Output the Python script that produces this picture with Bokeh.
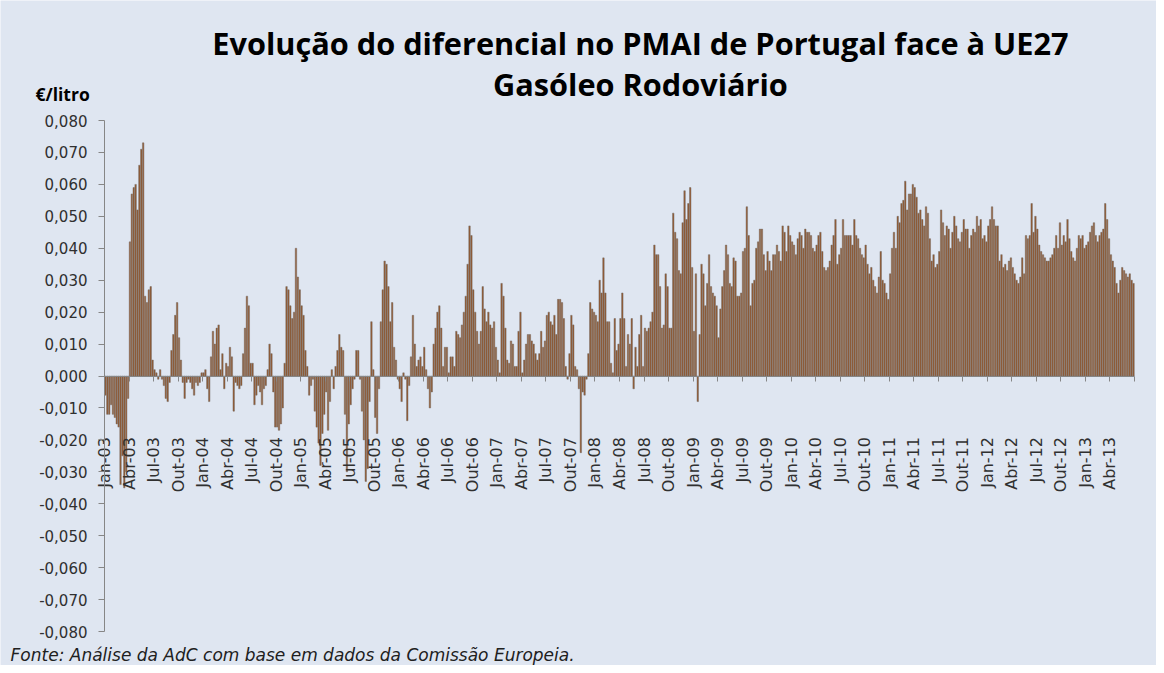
from math import pi
from bokeh.plotting import figure
from bokeh.models import Range1d, FixedTicker, CustomJSTickFormatter, Label
from bokeh.embed import file_html
from bokeh.resources import INLINE

# Weekly differential (EUR/litre), Jan-2003 .. Jun-2013, one list per quarter (13 weeks)
q00 = [-0.006, -0.012, -0.012, -0.009, -0.012, -0.013, -0.015, -0.016, -0.034, -0.025, -0.035, -0.030, -0.007]
q01 = [0.042, 0.057, 0.059, 0.060, 0.052, 0.066, 0.071, 0.073, 0.025, 0.023, 0.027, 0.028, 0.005]
q02 = [0.002, 0.001, -0.001, 0.002, -0.001, -0.003, -0.007, -0.008, -0.002, 0.008, 0.013, 0.019, 0.023]
q03 = [0.012, 0.005, -0.002, -0.007, -0.002, -0.001, -0.002, -0.004, -0.006, -0.002, -0.003, -0.002, 0.001]
q04 = [0.001, 0.002, -0.004, -0.008, 0.006, 0.014, 0.010, 0.015, 0.016, 0.002, 0.007, -0.004, 0.004]
q05 = [0.003, 0.009, 0.006, -0.011, -0.002, -0.003, -0.004, -0.003, 0.007, 0.015, 0.025, 0.022, 0.004]
q06 = [0.004, -0.009, -0.006, -0.003, -0.005, -0.009, -0.004, -0.003, 0.002, 0.010, 0.007, -0.005, -0.016]
q07 = [-0.016, -0.017, -0.015, -0.010, 0.004, 0.028, 0.027, 0.022, 0.018, 0.020, 0.040, 0.031, 0.027]
q08 = [0.022, 0.019, 0.008, 0.003, -0.006, -0.003, -0.001, -0.011, -0.016, -0.021, -0.028, -0.018, -0.012]
q09 = [-0.005, -0.017, -0.008, 0.002, -0.004, 0.003, 0.008, 0.013, 0.009, 0.008, -0.012, -0.030, -0.015]
q10 = [-0.009, -0.004, -0.001, 0.008, 0.008, -0.001, -0.011, -0.020, -0.033, -0.029, -0.008, 0.017, 0.002]
q11 = [-0.013, -0.018, -0.004, 0.017, 0.027, 0.036, 0.035, 0.028, 0.017, 0.023, 0.009, 0.005, -0.001]
q12 = [-0.004, -0.008, 0.001, -0.001, -0.014, -0.003, 0.006, 0.019, 0.010, 0.003, 0.005, 0.006, 0.003]
q13 = [0.009, 0.002, -0.004, -0.010, -0.005, 0.010, 0.015, 0.020, 0.022, 0.015, 0.003, 0.009, 0.009]
q14 = [0.001, 0.006, 0.006, 0.003, 0.014, 0.013, 0.012, 0.016, 0.020, 0.025, 0.035, 0.047, 0.044]
q15 = [0.027, 0.020, 0.014, 0.010, 0.014, 0.028, 0.021, 0.017, 0.020, 0.016, 0.015, 0.017, 0.009]
q16 = [0.005, 0.001, 0.029, 0.025, 0.015, 0.005, 0.004, 0.011, 0.010, 0.003, 0.003, 0.014, 0.020]
q17 = [0.001, 0.005, 0.010, 0.013, 0.013, 0.011, 0.010, 0.007, 0.005, 0.007, 0.014, 0.009, 0.011]
q18 = [0.019, 0.020, 0.017, 0.016, 0.019, 0.013, 0.024, 0.024, 0.023, 0.018, 0.003, -0.001, 0.007]
q19 = [0.019, 0.016, 0.003, 0.002, -0.004, -0.024, -0.005, -0.006, -0.001, 0.007, 0.023, 0.021, 0.020]
q20 = [0.019, 0.017, 0.030, 0.026, 0.037, 0.026, 0.017, 0.017, 0.004, 0.001, 0.018, 0.008, 0.010]
q21 = [0.018, 0.026, 0.018, 0.003, 0.013, 0.010, 0.018, -0.004, 0.009, 0.003, 0.013, 0.019, 0.003]
q22 = [0.015, 0.014, 0.015, 0.017, 0.020, 0.041, 0.038, 0.038, 0.028, 0.015, 0.016, 0.032, 0.028]
q23 = [0.015, 0.015, 0.051, 0.045, 0.043, 0.033, 0.032, 0.048, 0.058, 0.049, 0.054, 0.059, 0.034]
q24 = [0.014, 0.032, -0.008, 0.013, 0.035, 0.032, 0.022, 0.029, 0.038, 0.028, 0.026, 0.025, 0.022]
q25 = [0.012, 0.021, 0.028, 0.033, 0.041, 0.038, 0.029, 0.028, 0.037, 0.036, 0.025, 0.025, 0.026]
q26 = [0.039, 0.040, 0.053, 0.044, 0.022, 0.029, 0.030, 0.040, 0.042, 0.046, 0.046, 0.038, 0.033]
q27 = [0.039, 0.036, 0.033, 0.038, 0.038, 0.041, 0.039, 0.036, 0.047, 0.045, 0.039, 0.047, 0.044]
q28 = [0.042, 0.041, 0.038, 0.043, 0.045, 0.044, 0.040, 0.046, 0.045, 0.045, 0.044, 0.040, 0.039]
q29 = [0.041, 0.044, 0.045, 0.039, 0.034, 0.033, 0.034, 0.036, 0.041, 0.044, 0.049, 0.035, 0.038]
q30 = [0.040, 0.049, 0.044, 0.044, 0.044, 0.044, 0.041, 0.049, 0.044, 0.043, 0.040, 0.038, 0.037]
q31 = [0.041, 0.035, 0.032, 0.034, 0.030, 0.028, 0.026, 0.031, 0.039, 0.030, 0.029, 0.026, 0.024]
q32 = [0.032, 0.040, 0.045, 0.040, 0.050, 0.048, 0.054, 0.055, 0.061, 0.052, 0.057, 0.057, 0.060]
q33 = [0.059, 0.056, 0.051, 0.052, 0.049, 0.047, 0.053, 0.051, 0.043, 0.036, 0.038, 0.034, 0.035]
q34 = [0.039, 0.052, 0.048, 0.044, 0.047, 0.046, 0.040, 0.045, 0.050, 0.047, 0.043, 0.042, 0.045]
q35 = [0.049, 0.046, 0.046, 0.040, 0.044, 0.046, 0.045, 0.050, 0.047, 0.049, 0.043, 0.044, 0.042]
q36 = [0.047, 0.049, 0.053, 0.049, 0.047, 0.047, 0.036, 0.038, 0.034, 0.035, 0.033, 0.036, 0.037]
q37 = [0.034, 0.032, 0.030, 0.029, 0.031, 0.037, 0.032, 0.044, 0.043, 0.044, 0.054, 0.045, 0.050]
q38 = [0.046, 0.041, 0.039, 0.038, 0.037, 0.036, 0.036, 0.037, 0.038, 0.040, 0.044, 0.040, 0.048]
q39 = [0.041, 0.044, 0.042, 0.049, 0.043, 0.039, 0.037, 0.036, 0.040, 0.044, 0.043, 0.044, 0.040]
q40 = [0.041, 0.042, 0.045, 0.047, 0.048, 0.044, 0.042, 0.044, 0.045, 0.046, 0.054, 0.049, 0.043]
q41 = [0.038, 0.036, 0.034, 0.029, 0.026, 0.030, 0.034, 0.033, 0.032, 0.031, 0.032, 0.030, 0.029]

quarters = [q00, q01, q02, q03, q04, q05, q06, q07, q08, q09, q10, q11, q12, q13,
            q14, q15, q16, q17, q18, q19, q20, q21, q22, q23, q24, q25, q26, q27,
            q28, q29, q30, q31, q32, q33, q34, q35, q36, q37, q38, q39, q40, q41]

quarter_labels = [
    "Jan-03", "Abr-03", "Jul-03", "Out-03", "Jan-04", "Abr-04", "Jul-04", "Out-04",
    "Jan-05", "Abr-05", "Jul-05", "Out-05", "Jan-06", "Abr-06", "Jul-06", "Out-06",
    "Jan-07", "Abr-07", "Jul-07", "Out-07", "Jan-08", "Abr-08", "Jul-08", "Out-08",
    "Jan-09", "Abr-09", "Jul-09", "Out-09", "Jan-10", "Abr-10", "Jul-10", "Out-10",
    "Jan-11", "Abr-11", "Jul-11", "Out-11", "Jan-12", "Abr-12", "Jul-12", "Out-12",
    "Jan-13", "Abr-13",
]

y_ticks = [-0.08, -0.07, -0.06, -0.05, -0.04, -0.03, -0.02, -0.01, 0.0,
           0.01, 0.02, 0.03, 0.04, 0.05, 0.06, 0.07, 0.08]

title_1 = "Evolução do diferencial no PMAI de Portugal face à UE27"
title_2 = "Gasóleo Rodoviário"
unit_text = "€/litro"
source_text = "Fonte: Análise da AdC com base em dados da Comissão Europeia."

values = [v for q in quarters for v in q]
n = len(values)
weeks = [i + 0.5 for i in range(n)]

BG = "#DFE6F1"
AXIS = "#868686"

# The frame covers the whole canvas so that titles and the source line can be
# drawn as in-frame annotations; axes are pinned at x=0 / y=0 with bounds.
W, H = 1156, 665
PXX = 1.8864         # px per week
PXY = 3194.0         # px per unit of y
LEFT, TOP = 104, 120 # canvas position of (x=0, y=0.08)
x0 = -LEFT / PXX
x1 = (W - LEFT) / PXX
y1 = 0.08 + TOP / PXY
y0 = 0.08 - (H - TOP) / PXY

p = figure(width=W, height=H,
           x_range=Range1d(x0, x1), y_range=Range1d(y0, y1),
           output_backend="svg", toolbar_location=None,
           min_border=0, min_border_left=0, min_border_right=0,
           min_border_top=0, min_border_bottom=0,
           background_fill_color=BG, border_fill_color=BG,
           outline_line_color=None)
p.title.visible = False
p.grid.visible = False

p.vbar(x=weeks, top=values, bottom=0, width=0.78,
       fill_color="#94562A", line_color="#77716D", line_width=0.5)

# x axis drawn at zero
xt = [13 * k for k in range(len(quarter_labels) + 1)]
overrides = {13 * k: lab for k, lab in enumerate(quarter_labels)}
overrides[13 * len(quarter_labels)] = ""
xa = p.xaxis[0]
xa.fixed_location = 0
xa.bounds = (0, 546)
xa.ticker = FixedTicker(ticks=xt)
xa.major_label_overrides = overrides
xa.major_label_orientation = pi / 2
xa.major_label_standoff = 56
xa.major_tick_out = 5
xa.major_tick_in = 0
xa.minor_tick_out = 0
xa.minor_tick_in = 0
xa.axis_line_color = AXIS
xa.major_tick_line_color = AXIS
xa.major_label_text_font = "DejaVu Sans"
xa.major_label_text_font_size = "16px"
xa.major_label_text_color = "#303030"

ya = p.yaxis[0]
ya.fixed_location = 0
ya.bounds = (-0.08, 0.08)
ya.ticker = FixedTicker(ticks=y_ticks)
ya.formatter = CustomJSTickFormatter(code="return tick.toFixed(3).replace('.', ',');")
ya.major_tick_out = 6
ya.major_tick_in = 0
ya.minor_tick_out = 0
ya.minor_tick_in = 0
ya.axis_line_color = AXIS
ya.major_tick_line_color = AXIS
ya.major_label_standoff = 11
ya.major_label_text_font = "DejaVu Sans"
ya.major_label_text_font_size = "15px"
ya.major_label_text_color = "#303030"

p.add_layout(Label(x=284.1, y=0.10411, text=title_1, text_font="Open Sans",
                   text_font_style="bold", text_font_size="30.7px",
                   text_align="center", text_baseline="alphabetic", text_color="#000000"))
p.add_layout(Label(x=284.1, y=0.09158, text=title_2, text_font="Open Sans",
                   text_font_style="bold", text_font_size="30.7px",
                   text_align="center", text_baseline="alphabetic", text_color="#000000"))
p.add_layout(Label(x=-36.6, y=0.08845, text=unit_text, text_font="Open Sans",
                   text_font_style="bold", text_font_size="17.5px",
                   text_align="left", text_baseline="alphabetic", text_color="#000000"))
p.add_layout(Label(x=-49.8, y=-0.0872, text=source_text, text_font="DejaVu Sans",
                   text_font_style="italic", text_font_size="17px",
                   text_align="left", text_baseline="alphabetic", text_color="#202020"))

open("out.html", "w").write(file_html(p, INLINE))
